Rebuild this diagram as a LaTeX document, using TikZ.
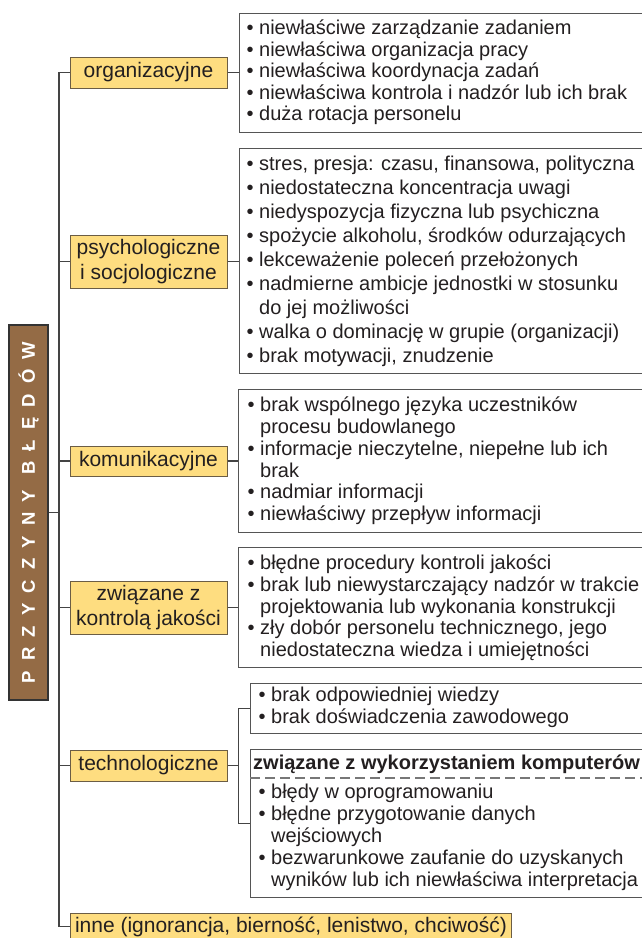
\documentclass[tikz,border=0pt]{standalone}
\usepackage{fontspec}
\setmainfont{Liberation Sans}
\usetikzlibrary{calc}
\definecolor{titlefill}{HTML}{946B45}
\definecolor{titleborder}{HTML}{333333}
\definecolor{catfill}{HTML}{FEDD80}
\definecolor{catborder}{HTML}{6B5D45}
\definecolor{frameline}{HTML}{555555}
\definecolor{connline}{HTML}{444444}
\definecolor{txt}{HTML}{231F20}
\newcommand{\bi}{\makebox[12.5pt][l]{•}}
\newcommand{\ci}{\hspace*{12.5pt}}
\newcommand{\tp}{\rule{0pt}{16pt}}
\begin{document}
\begin{tikzpicture}[x=1pt,y=-1pt,
  cat/.style={draw=catborder, fill=catfill, line width=1pt, inner sep=0pt, text=txt,
    font=\fontsize{21}{24.5}\selectfont, align=center, minimum width=157pt},
  frame/.style={draw=frameline, line width=1.1pt, inner sep=0pt, anchor=north west, minimum width=430pt},
  items/.style={inner sep=0pt, anchor=north west, align=left, text=txt},
  conn/.style={draw=connline, line width=1.1pt}]
\useasboundingbox (0,0) rectangle (641,938);
% title
\node[rotate=90, draw=titleborder, line width=1.5pt, fill=titlefill, minimum width=375pt,
  minimum height=39pt, inner sep=0pt, text=white,
  font=\bfseries\fontsize{18.5}{20}\selectfont\addfontfeature{LetterSpace=55}]
  (title) at (28.5,512.5) {PRZYCZYNY BŁĘDÓW};
% categories
\node[cat, minimum height=31pt] (org) at (148.5,72.5) {organizacyjne};
\node[cat, minimum height=53pt] (psy) at (148.5,261.5) {psychologiczne\\i socjologiczne};
\node[cat, minimum height=30pt] (kom) at (148.5,461) {komunikacyjne};
\node[cat, minimum height=53pt] (kon) at (148.5,607.5) {związane z\\kontrolą jakości};
\node[cat, minimum height=31pt] (tech) at (148.5,765.5) {technologiczne};
\node[cat, minimum width=0pt, minimum height=27pt, inner xsep=4.5pt, anchor=west, align=left]
  (inne) at (70,926.5) {inne (ignorancja, bierność, lenistwo, chciwość)};
% frames
\node[frame, minimum height=119pt] (orgb) at (239,13) {};
\node[frame, minimum height=225pt] (psyb) at (239,148) {};
\node[frame, minimum height=143pt] (komb) at (238,389) {};
\node[frame, minimum height=120pt] (konb) at (238,547) {};
\node[frame, minimum height=50pt] (tb1) at (250,683) {};
\node[frame, minimum height=148pt] (tb2) at (250,749) {};
% item texts
\node[items, font=\fontsize{20}{21.5}\selectfont] (orgt) at (246.5,18.5) {%
\tp\bi niewłaściwe zarządzanie zadaniem\\
\bi niewłaściwa organizacja pracy\\
\bi niewłaściwa koordynacja zadań\\
\bi niewłaściwa kontrola i nadzór lub ich brak\\
\bi duża rotacja personelu};
\node[items, font=\fontsize{20}{24}\selectfont] (psyt) at (246.5,154.5) {%
\tp\bi stres, presja: czasu, finansowa, polityczna\\
\bi niedostateczna koncentracja uwagi\\
\bi niedyspozycja fizyczna lub psychiczna\\
\bi spożycie alkoholu, środków odurzających\\
\bi lekceważenie poleceń przełożonych\\
\bi nadmierne ambicje jednostki w stosunku\\
\ci do jej możliwości\\
\bi walka o dominację w grupie (organizacji)\\
\bi brak motywacji, znudzenie};
\node[items, font=\fontsize{20}{21.8}\selectfont] (komt) at (247.5,395.5) {%
\tp\bi brak wspólnego języka uczestników\\
\ci procesu budowlanego\\
\bi informacje nieczytelne, niepełne lub ich\\
\ci brak\\
\bi nadmiar informacji\\
\bi niewłaściwy przepływ informacji};
\node[items, font=\fontsize{20}{21.75}\selectfont] (kont) at (247.5,553.5) {%
\tp\bi błędne procedury kontroli jakości\\
\bi brak lub niewystarczający nadzór w trakcie\\
\ci projektowania lub wykonania konstrukcji\\
\bi zły dobór personelu technicznego, jego\\
\ci niedostateczna wiedza i umiejętności};
\node[items, font=\fontsize{20}{22}\selectfont] (t1t) at (258.5,685.5) {%
\tp\bi brak odpowiedniej wiedzy\\
\bi brak doświadczenia zawodowego};
\node[inner sep=0pt, anchor=base west, text=txt, font=\bfseries\fontsize{20}{22}\selectfont]
  (t2h) at (253,769) {związane z wykorzystaniem komputerów};
\draw[draw=frameline!80, line width=1.1pt, dash pattern=on 10pt off 5pt] (250,778) -- (669,778);
\node[items, font=\fontsize{20}{22}\selectfont] (t2t) at (258.5,782.5) {%
\tp\bi błędy w oprogramowaniu\\
\bi błędne przygotowanie danych\\
\ci wejściowych\\
\bi bezwarunkowe zaufanie do uzyskanych\\
\ci wyników lub ich niewłaściwa interpretacja};
% connectors
\coordinate (tx) at (59,0);
\coordinate (bx) at (238.5,0);
\draw[conn] (org.west) -- (org.west -| tx) -- (inne.west -| tx) -- (inne.west);
\foreach \n in {psy,kom,kon,tech} \draw[conn] (\n.west) -- (\n.west -| tx);
\draw[conn] (title.south) -- (title.south -| tx);
\draw[conn] (org.east) -- (org.east -| orgb.west);
\draw[conn] (psy.east) -- (psy.east -| psyb.west);
\draw[conn] (kom.east) -- (kom.east -| komb.west);
\draw[conn] (kon.east) -- (kon.east -| konb.west);
\draw[conn] (tech.east) -- (tech.east -| bx);
\draw[conn] (tb1.west) -- (tb1.west -| bx) -- (tb2.west -| bx) -- (tb2.west);
\end{tikzpicture}
\end{document}
